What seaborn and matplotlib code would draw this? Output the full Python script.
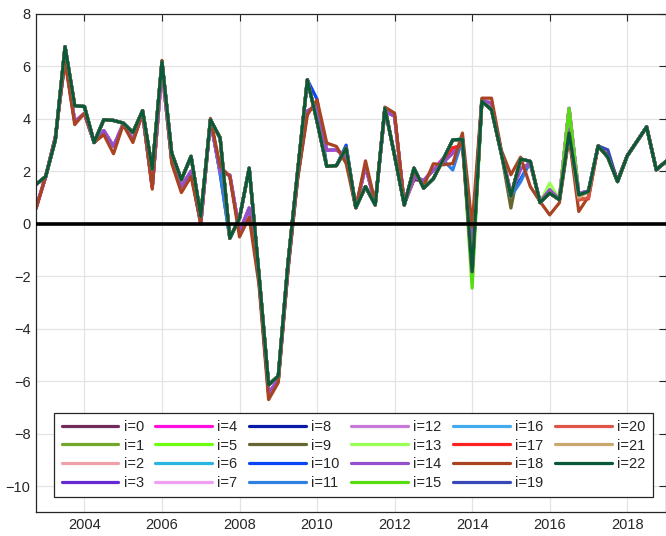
import numpy as np
import pandas as pd
import matplotlib
matplotlib.use('Agg')
import matplotlib.pyplot as plt
import seaborn as sns

# quarterly dates, 2002Q4 .. 2019Q1
quarters = np.arange(2002.75, 2019.01, 0.25)

# latest path (most series end up here, i=22 drawn on top)
path_late = [1.5, 1.8, 3.2, 6.75, 4.5, 4.47, 3.1, 3.97, 3.94, 3.84, 3.48, 4.31, 2.08, 6.18,
             2.7, 1.68, 2.57, 0.28, 3.97, 3.27, -0.55, 0.22, 2.12, -1.9, -6.14, -5.8, -1.5,
             2.0, 5.49, 3.9, 2.19, 2.22, 2.89, 0.62, 1.42, 0.72, 4.41, 2.6, 0.72, 2.12, 1.36,
             1.72, 2.44, 3.2, 3.22, -1.82, 4.67, 4.35, 2.7, 1.05, 2.47, 2.38, 0.81, 1.17, 0.92,
             3.46, 1.1, 1.23, 2.97, 2.54, 1.61, 2.59, 3.14, 3.69, 2.06, 2.38]

# earliest path (brown series)
path_early = [0.57, 1.8, 3.3, 6.2, 3.78, 4.22, 3.1, 3.4, 2.67, 3.78, 3.1, 4.22, 1.32, 6.23,
              2.31, 1.19, 1.8, 0.03, 4.02, 2.2, 1.8, -0.5, 0.25, -2.3, -6.7, -6.05, -1.8,
              1.7, 4.15, 4.73, 3.08, 2.95, 2.3, 0.6, 2.4, 0.8, 4.45, 4.22, 0.72, 2.0, 1.45,
              2.29, 2.25, 2.3, 3.46, -0.1, 4.79, 4.79, 2.82, 1.87, 2.54, 1.42, 0.85, 0.34, 0.8,
              3.3, 0.47, 1.04, 2.97, 2.6, 1.65, 2.59, 3.14, 3.69, 2.06, 2.38]

# in-between path (pink / purple series)
path_mid = [0.6, 1.8, 3.3, 6.3, 3.9, 4.2, 3.1, 3.55, 2.95, 3.8, 3.2, 4.2, 1.4, 5.9,
            2.45, 1.42, 2.0, 0.0, 3.95, 2.0, 1.85, -0.3, 0.6, -2.1, -6.45, -5.95, -1.7,
            1.8, 4.3, 4.5, 2.8, 2.82, 2.55, 0.62, 2.2, 0.78, 4.3, 4.1, 0.75, 1.8, 1.65,
            2.05, 2.35, 2.7, 3.05, -0.8, 4.7, 4.6, 2.75, 1.15, 2.1, 2.3, 0.85, 1.3, 0.95,
            4.4, 1.15, 1.25, 2.97, 2.6, 1.65, 2.59, 3.14, 3.69, 2.06, 2.38]

series_path = {0: 'mid', 1: 'late', 2: 'mid', 3: 'mid', 4: 'mid', 5: 'late', 6: 'late',
               7: 'mid', 8: 'late', 9: 'late', 10: 'late', 11: 'late', 12: 'mid', 13: 'late',
               14: 'mid', 15: 'late', 16: 'late', 17: 'late', 18: 'early', 19: 'late',
               20: 'late', 21: 'late', 22: 'late'}

# point-wise differences (quarter index -> value)
series_fix = {
    0: {39: 1.68},
    4: {42: 2.5, 43: 2.8, 44: 2.9},
    9: {49: 0.6},
    10: {19: 1.9, 29: 4.75, 32: 3.0, 50: 1.7},
    11: {19: 1.95, 43: 2.05, 50: 1.6},
    13: {45: -2.1, 53: 1.55},
    14: {55: 3.6},
    15: {45: -2.45, 55: 4.4},
    17: {43: 2.9, 44: 3.0, 56: 0.95, 57: 0.95},
    19: {59: 2.82},
    20: {56: 0.9, 57: 1.0},
    21: {56: 1.0},
}

colors = ['#722a5c', '#72a82a', '#f0a0a8', '#6428d4', '#ff10e0', '#70ff10', '#2ab4e0',
          '#f0a0f0', '#0a1aa8', '#666630', '#0a46f5', '#2f7fe0', '#c878d8', '#99ff55',
          '#9450cc', '#55dd11', '#44aaee', '#ff2020', '#a84422', '#3848b8', '#dd5544',
          '#c8a870', '#0a5a3a']

paths = {'late': path_late, 'early': path_early, 'mid': path_mid}
rows = []
for i in range(23):
    vals = list(paths[series_path[i]])
    for k, v in series_fix.get(i, {}).items():
        vals[k] = v
    for q, v in zip(quarters, vals):
        rows.append({'date': q, 'value': v, 'series': 'i=%d' % i})
df = pd.DataFrame(rows)
labels = ['i=%d' % i for i in range(23)]

sns.set_style('whitegrid')
plt.rcParams['font.family'] = ['Liberation Sans', 'DejaVu Sans']

fig = plt.figure(figsize=(6.66, 5.36), dpi=100)
ax = fig.add_axes([0.054, 0.044, 0.946, 0.930])

sns.lineplot(data=df, x='date', y='value', hue='series', hue_order=labels,
             palette=colors, linewidth=2.3, sort=False, estimator=None, ax=ax)
ax.axhline(0, color='black', linewidth=2.6, zorder=5)

ax.set_xlim(2002.75, 2019.0)
ax.set_ylim(-11, 8)
ax.set_xticks(range(2004, 2019, 2))
ax.set_yticks(range(-10, 9, 2))
ax.set_xlabel('')
ax.set_ylabel('')
ax.grid(True, color='#e3e3e3', linewidth=0.9)
ax.tick_params(direction='in', top=True, right=True, length=5, width=0.8,
               color='#262626', labelcolor='#262626', labelsize=10.5, pad=4)
for s in ax.spines.values():
    s.set_color('#262626')
    s.set_linewidth(0.9)

leg = ax.legend(ncol=6, loc='lower center', bbox_to_anchor=(0.504, 0.016),
                fontsize=10.5, handlelength=3.9, handletextpad=0.35,
                columnspacing=0.8, labelspacing=0.32, frameon=True, fancybox=False,
                borderpad=0.5, framealpha=1)
leg.get_frame().set_edgecolor('#262626')
leg.get_frame().set_linewidth(0.9)
for line in leg.get_lines():
    line.set_linewidth(2.3)

fig.savefig('out.png', dpi=100)
